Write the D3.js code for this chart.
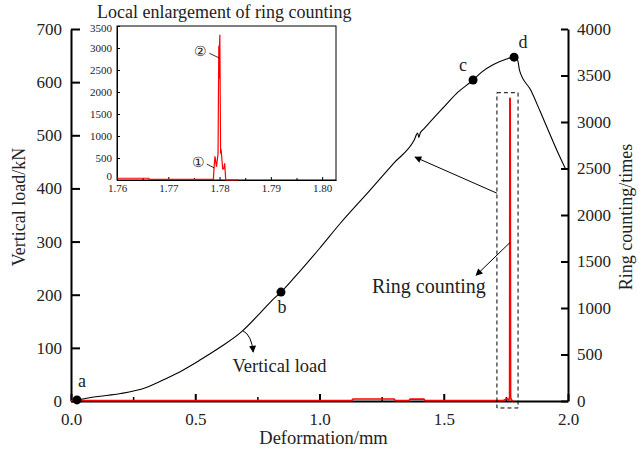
<!DOCTYPE html>
<html>
<head>
<meta charset="utf-8">
<script src="https://cdn.jsdelivr.net/npm/d3@7"></script>
<style>
    body { margin: 0; background: #fff; }
    svg { display: block; }
    svg text { font-family: "Liberation Serif", "Times New Roman", serif; }
</style>
</head>
<body>
<svg id="chart" width="638" height="452"></svg>
<script>
"use strict";

// vertical load curve: deformation (mm) and load (kN)
const loadDef = [0.024, 0.1, 0.2, 0.3, 0.386, 0.45, 0.519, 0.6, 0.688, 0.76, 0.81, 0.845, 0.9, 1.0, 1.083, 1.2, 1.3, 1.38,
    1.395, 1.40, 1.405, 1.42, 1.5, 1.55, 1.618, 1.65, 1.7, 1.75, 1.783, 1.795, 1.80, 1.805, 1.85, 1.887, 1.92, 1.956, 1.99];
const loadVal = [2, 8, 14, 25, 43, 58, 77, 101, 131, 165, 190, 205, 233, 287, 334, 395, 448, 490,
    504, 496, 504, 512, 553, 578, 604, 618, 633, 643, 647, 645, 636, 622, 585, 546, 510, 471, 437];

// ring counting over the whole test
const ringDef = [0.0, 0.3, 0.6, 0.9, 1.13, 1.135, 1.30, 1.305, 1.36, 1.365, 1.42, 1.425, 1.6, 1.74, 1.755, 1.762, 1.765, 1.766, 1.7675, 1.769, 1.772, 1.78];
const ringCnt = [5, 5, 5, 5, 5, 22, 22, 5, 5, 20, 20, 5, 5, 5, 25, 10, 40, 3260, 3250, 40, 12, 0];

// ring counting, local enlargement
const zoomDef = [1.7600, 1.7662, 1.7663, 1.7788, 1.7789, 1.7791, 1.7794, 1.7797, 1.7798, 1.77985, 1.7799, 1.7800, 1.78005, 1.7802,
    1.7803, 1.7806, 1.7808, 1.7810, 1.7812, 1.7837];
const zoomCnt = [40, 40, 15, 15, 250, 540, 300, 600, 2300, 3050, 2300, 3050, 3300, 600,
    700, 250, 250, 380, 0, 0];

// marked points a-d on the load curve
const pointLabels = ["a", "b", "c", "d"];
const pointDef = [0.024, 0.845, 1.618, 1.783];
const pointVal = [2, 205, 604, 647];

const xTicks = [0, 0.5, 1.0, 1.5, 2.0];
const xMinorTicks = [0.25, 0.75, 1.25, 1.75];
const loadTicks = [0, 100, 200, 300, 400, 500, 600, 700];
const ringTicks = [0, 500, 1000, 1500, 2000, 2500, 3000, 3500, 4000];
const zoomXTicks = [1.76, 1.77, 1.78, 1.79, 1.80];
const zoomXMinor = [1.765, 1.775, 1.785, 1.795];
const zoomYTicks = [0, 500, 1000, 1500, 2000, 2500, 3000, 3500];

const serif = '"Liberation Serif", "Times New Roman", serif';
const svg = d3.select("#chart");

const x = d3.scaleLinear().domain([0, 2]).range([71, 568]);
const yLoad = d3.scaleLinear().domain([0, 700]).range([401, 29]);
const yRing = d3.scaleLinear().domain([0, 4000]).range([401, 29]);

function styleAxis(g, size, width) {
    g.attr("font-family", serif).attr("font-size", null);
    g.select(".domain").attr("stroke", "#000").attr("stroke-width", width);
    g.selectAll(".tick line").attr("stroke", "#000").attr("stroke-width", width);
    g.selectAll("text")
        .attr("fill", "#222")
        .style("font-family", serif)
        .style("font-size", size + "px");
}

// main axes
svg.append("g")
    .attr("transform", `translate(${x(0)},0)`)
    .call(d3.axisLeft(yLoad).tickValues(loadTicks).tickSize(-9).tickSizeOuter(0).tickPadding(9).tickFormat(d3.format("d")))
    .call(g => styleAxis(g, 17, 2));

svg.append("g")
    .attr("transform", `translate(${x(2)},0)`)
    .call(d3.axisRight(yRing).tickValues(ringTicks).tickSize(-7).tickSizeOuter(0).tickPadding(9).tickFormat(d3.format("d")))
    .call(g => styleAxis(g, 17, 2));

svg.append("g")
    .attr("transform", `translate(0,${yLoad(0)})`)
    .call(d3.axisBottom(x).tickValues(xMinorTicks).tickSize(-4).tickSizeOuter(0).tickFormat(""))
    .call(g => { styleAxis(g, 17, 1.5); g.select(".domain").remove(); });

svg.append("g")
    .attr("transform", `translate(0,${yLoad(0)})`)
    .call(d3.axisBottom(x).tickValues(xTicks).tickSize(-7).tickSizeOuter(0).tickPadding(12).tickFormat(d3.format(".1f")))
    .call(g => styleAxis(g, 17, 2));

// axis titles
svg.append("text")
    .attr("transform", `translate(21,${(yLoad(0) + yLoad(700)) / 2 - 8}) rotate(-90)`)
    .attr("text-anchor", "middle")
    .attr("dominant-baseline", "middle")
    .style("font-size", "18px")
    .attr("fill", "#222")
    .text("Vertical load/kN");

svg.append("text")
    .attr("transform", `translate(628,${(yRing(0) + yRing(4000)) / 2 + 2}) rotate(-90)`)
    .attr("text-anchor", "middle")
    .attr("dominant-baseline", "middle")
    .style("font-size", "18px")
    .attr("fill", "#222")
    .text("Ring counting/times");

svg.append("text")
    .attr("x", (x(0) + x(2)) / 2 + 4)
    .attr("y", 444)
    .attr("text-anchor", "middle")
    .style("font-size", "18.5px")
    .attr("fill", "#222")
    .text("Deformation/mm");

// ring counting (red)
const ringLine = d3.line()
    .x((d, i) => x(ringDef[i]))
    .y(d => yRing(d));

svg.append("path")
    .attr("d", ringLine(ringCnt))
    .attr("fill", "none")
    .attr("stroke", "red")
    .attr("stroke-width", 1.6);

// vertical load curve
const loadLine = d3.line()
    .x((d, i) => x(loadDef[i]))
    .y(d => yLoad(d))
    .curve(d3.curveMonotoneX);

svg.append("path")
    .attr("d", loadLine(loadVal))
    .attr("fill", "none")
    .attr("stroke", "#000")
    .attr("stroke-width", 1.1);

// marked points
const labelOffset = [[5, -13], [1, 21], [-10, -9], [9, -9]];
svg.selectAll(".pt")
    .data(pointVal)
    .enter()
    .append("circle")
    .attr("class", "pt")
    .attr("cx", (d, i) => x(pointDef[i]))
    .attr("cy", d => yLoad(d))
    .attr("r", 4.5)
    .attr("fill", "#000");

svg.selectAll(".ptlabel")
    .data(pointVal)
    .enter()
    .append("text")
    .attr("class", "ptlabel")
    .attr("x", (d, i) => x(pointDef[i]) + labelOffset[i][0])
    .attr("y", (d, i) => yLoad(d) + labelOffset[i][1])
    .attr("text-anchor", "middle")
    .style("font-size", "18px")
    .attr("fill", "#222")
    .text((d, i) => pointLabels[i]);

// arrow head marker
svg.append("defs").append("marker")
    .attr("id", "head")
    .attr("viewBox", "0 0 10 10")
    .attr("refX", 9)
    .attr("refY", 5)
    .attr("markerWidth", 10)
    .attr("markerHeight", 7)
    .attr("markerUnits", "userSpaceOnUse")
    .attr("orient", "auto")
    .append("path")
    .attr("d", "M0,0 L10,5 L0,10 Z")
    .attr("fill", "#000");

// dashed box round the ring counting peak
const boxDef = [1.714, 1.799];
const boxCnt = [-75, 3315];
svg.append("rect")
    .attr("x", x(boxDef[0]))
    .attr("y", yRing(boxCnt[1]))
    .attr("width", x(boxDef[1]) - x(boxDef[0]))
    .attr("height", yRing(boxCnt[0]) - yRing(boxCnt[1]))
    .attr("fill", "none")
    .attr("stroke", "#000")
    .attr("stroke-width", 1)
    .attr("stroke-dasharray", "4,3");

// annotations
svg.append("path")
    .attr("d", `M${x(0.692)},${yLoad(132)} Q${x(0.727)},${yLoad(124)} ${x(0.733)},${yLoad(92)}`)
    .attr("fill", "none")
    .attr("stroke", "#000")
    .attr("stroke-width", 1)
    .attr("marker-end", "url(#head)");

svg.append("text")
    .attr("x", x(0.65))
    .attr("y", yLoad(54))
    .style("font-size", "18.5px")
    .attr("fill", "#222")
    .text("Vertical load");

svg.append("line")
    .attr("x1", x(1.767)).attr("y1", yRing(1705))
    .attr("x2", x(1.630)).attr("y2", yRing(1351))
    .attr("stroke", "#000")
    .attr("stroke-width", 1)
    .attr("marker-end", "url(#head)");

svg.append("text")
    .attr("x", x(1.211))
    .attr("y", yRing(1158))
    .style("font-size", "20px")
    .attr("fill", "#222")
    .text("Ring counting");

svg.append("line")
    .attr("x1", x(1.714)).attr("y1", yLoad(391))
    .attr("x2", x(1.384)).attr("y2", yLoad(459))
    .attr("stroke", "#000")
    .attr("stroke-width", 1)
    .attr("marker-end", "url(#head)");

// inset: local enlargement
const ix = d3.scaleLinear().domain([1.76, 1.8027]).range([117, 336]);
const iy = d3.scaleLinear().domain([0, 3500]).range([180, 26]);

svg.append("rect")
    .attr("x", ix(1.76))
    .attr("y", iy(3500))
    .attr("width", ix(1.8027) - ix(1.76))
    .attr("height", iy(0) - iy(3500))
    .attr("fill", "#fff")
    .attr("stroke", "#000")
    .attr("stroke-width", 1);

svg.append("g")
    .attr("transform", `translate(${ix(1.76)},0)`)
    .call(d3.axisLeft(iy).tickValues(zoomYTicks).tickSize(-3).tickSizeOuter(0).tickPadding(5).tickFormat(d3.format("d")))
    .call(g => styleAxis(g, 11, 1))
    .call(g => g.selectAll("text").attr("dy", d => d === 0 ? "-0.05em" : (d === 3500 ? "0.5em" : "0.32em")));

svg.append("g")
    .attr("transform", `translate(0,${iy(0)})`)
    .call(d3.axisBottom(ix).tickValues(zoomXMinor).tickSize(-2).tickSizeOuter(0).tickFormat(""))
    .call(g => { styleAxis(g, 11, 1); g.select(".domain").remove(); });

svg.append("g")
    .attr("transform", `translate(0,${iy(0)})`)
    .call(d3.axisBottom(ix).tickValues(zoomXTicks).tickSize(-3).tickSizeOuter(0).tickPadding(4).tickFormat(d3.format(".2f")))
    .call(g => styleAxis(g, 11, 1));

svg.append("path")
    .attr("d", d3.line().x((d, i) => ix(zoomDef[i])).y(d => iy(d))(zoomCnt))
    .attr("fill", "none")
    .attr("stroke", "red")
    .attr("stroke-width", 1.2);

svg.append("text")
    .attr("x", 97)
    .attr("y", 18)
    .style("font-size", "18px")
    .attr("fill", "#222")
    .text("Local enlargement of ring counting");

// circled markers in the inset
const markLabels = ["\u2460", "\u2461"];
const markDef = [[1.7775, 1.7790], [1.7780, 1.7800]];
const markCnt = [[363, 272], [2880, 2770]];
markLabels.forEach((m, i) => {
    svg.append("line")
        .attr("x1", ix(markDef[i][0])).attr("y1", iy(markCnt[i][0]))
        .attr("x2", ix(markDef[i][1])).attr("y2", iy(markCnt[i][1]))
        .attr("stroke", "#000")
        .attr("stroke-width", 0.8);
    svg.append("text")
        .attr("x", ix(markDef[i][0]) - 2)
        .attr("y", iy(markCnt[i][0]))
        .attr("text-anchor", "end")
        .attr("dominant-baseline", "middle")
        .style("font-size", "14px")
        .attr("fill", "#222")
        .text(m);
});
</script>
</body>
</html>
